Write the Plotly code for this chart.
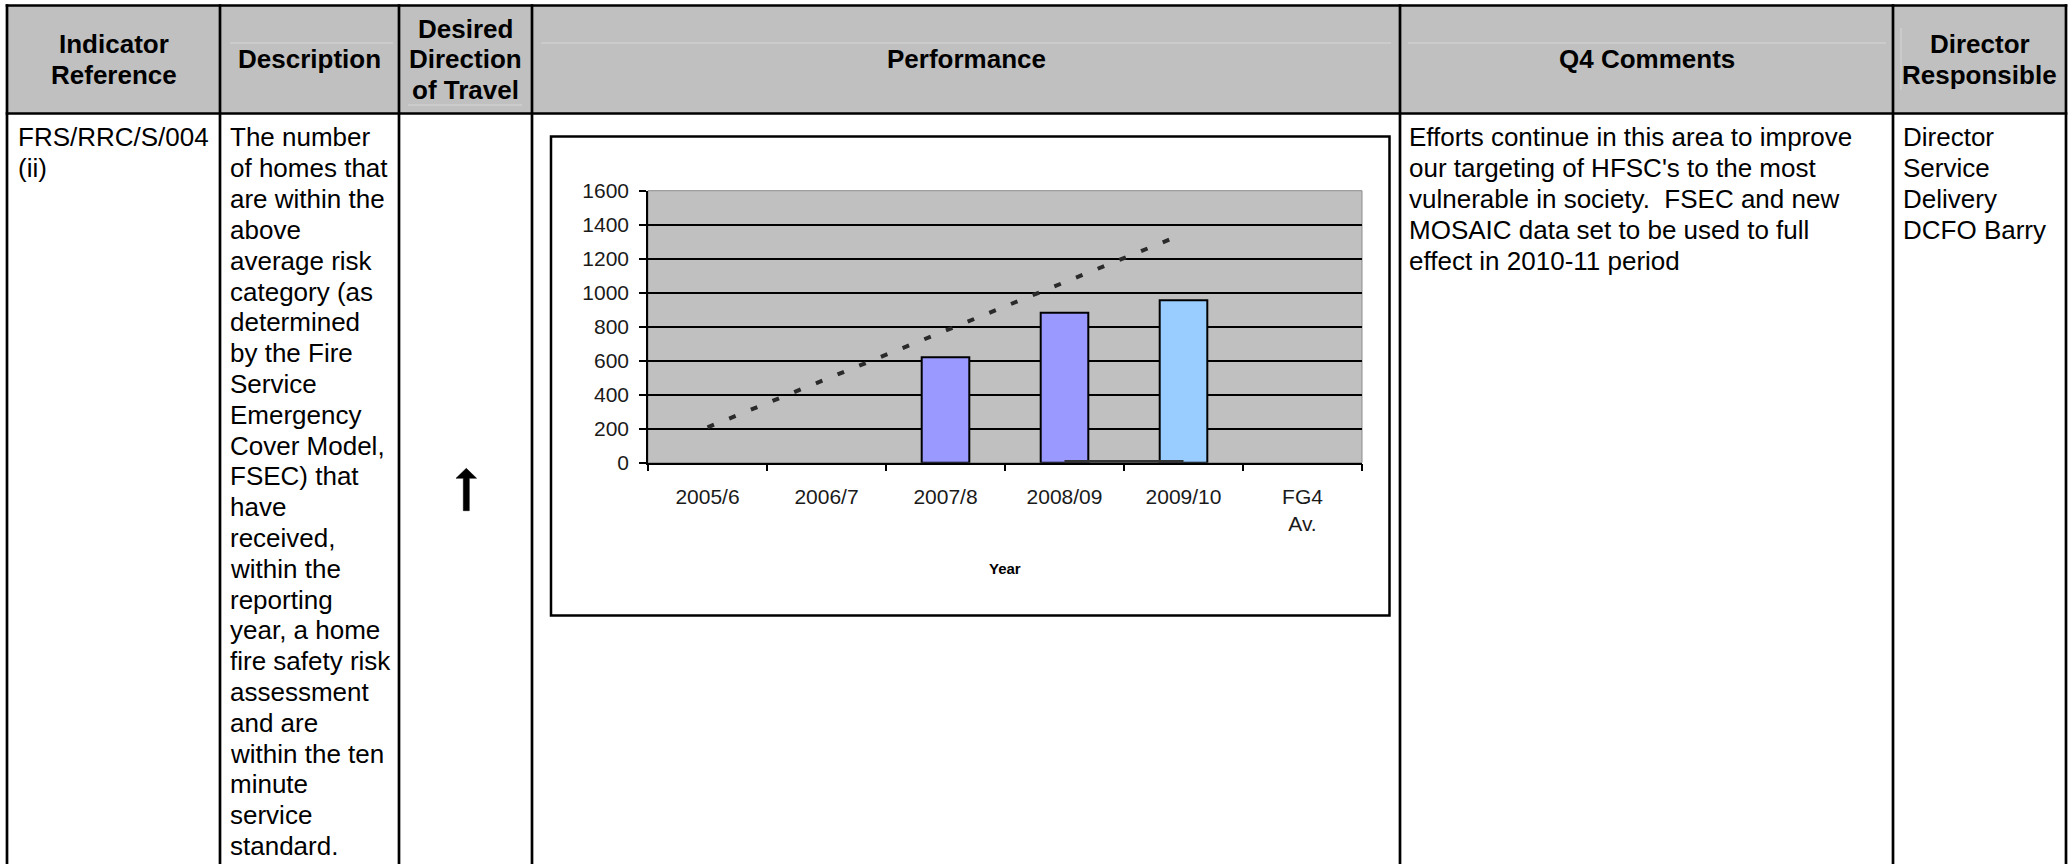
import plotly.graph_objects as go

W, H = 2071, 864
FONT = "Liberation Sans, Arial, sans-serif"

# ---- chart data -------------------------------------------------------
years = ["2005/6", "2006/7", "2007/8", "2008/09", "2009/10", "FG4<br>Av."]
actual_years = ["2007/8", "2008/09"]
actual_values = [620, 882]
current_years = ["2009/10"]
current_values = [955]
trend_years = ["2005/6", "2009/10"]
trend_values = [208, 1346]
base_years = ["2008/09", "2009/10"]
base_values = [7, 7]
y_ticks = [0, 200, 400, 600, 800, 1000, 1200, 1400, 1600]

# ---- table text -------------------------------------------------------
header_indicator = ["Indicator", "Reference"]
header_description = ["Description"]
header_direction = ["Desired", "Direction", "of Travel"]
header_performance = ["Performance"]
header_comments = ["Q4 Comments"]
header_director = ["Director", "Responsible"]

indicator_lines = ["FRS/RRC/S/004", "(ii)"]
description_lines = [
    "The number", "of homes that", "are within the", "above",
    "average risk", "category (as", "determined", "by the Fire",
    "Service", "Emergency", "Cover Model,", "FSEC) that", "have",
    "received,", "within the", "reporting", "year, a home",
    "fire safety risk", "assessment", "and are", "within the ten",
    "minute", "service", "standard.",
]
comment_lines = [
    "Efforts continue in this area to improve",
    "our targeting of HFSC's to the most",
    "vulnerable in society.\u00a0 FSEC and new",
    "MOSAIC data set to be used to full",
    "effect in 2010-11 period",
]
director_lines = ["Director", "Service", "Delivery", "DCFO Barry"]

# ---- geometry helpers (pixel -> paper) --------------------------------
def X(px):
    return px / W


def Y(py):
    return 1 - py / H


cols = [7, 220, 399, 532, 1400, 1893, 2066]
top, head_bottom, bottom = 5.5, 113.5, 880
line_w = 2.7
body_size = 26
head_size = 26
row0, row_step = 137.5, 30.8
head_step = 30.8

shapes = []
# header band
shapes.append(dict(type="rect", xref="paper", yref="paper", layer="below",
                   x0=X(cols[0]), x1=X(cols[-1]), y0=Y(head_bottom), y1=Y(top),
                   fillcolor="#c0c0c0", line=dict(width=0)))
# faint inner cell rules in the header
for (x0, x1, yy) in [(230, 393, 43), (408, 522, 105), (541, 1391, 43), (1408, 1886, 43)]:
    shapes.append(dict(type="line", xref="paper", yref="paper", layer="below",
                       x0=X(x0), x1=X(x1), y0=Y(yy), y1=Y(yy),
                       line=dict(color="#d6d6d6", width=1)))
shapes.append(dict(type="line", xref="paper", yref="paper", layer="below",
                   x0=X(1901), x1=X(1901), y0=Y(28), y1=Y(90),
                   line=dict(color="#d6d6d6", width=1)))

# chart frame and plot area
plot_l, plot_r, plot_t, plot_b = 648, 1362, 190.7, 462.7
shapes.append(dict(type="rect", xref="paper", yref="paper", layer="below",
                   x0=X(551), x1=X(1389.5), y0=Y(615.5), y1=Y(136.5),
                   fillcolor="white", line=dict(color="black", width=2.5)))
shapes.append(dict(type="rect", xref="paper", yref="paper", layer="below",
                   x0=X(plot_l), x1=X(plot_r), y0=Y(plot_b), y1=Y(plot_t),
                   fillcolor="#c0c0c0", line=dict(color="#8c8c8c", width=1)))

# table rules
for cx in cols:
    shapes.append(dict(type="line", xref="paper", yref="paper",
                       x0=X(cx), x1=X(cx), y0=Y(top - 1.3), y1=Y(bottom),
                       line=dict(color="black", width=line_w)))
for yy in (top, head_bottom):
    shapes.append(dict(type="line", xref="paper", yref="paper",
                       x0=X(cols[0] - 1.3), x1=X(cols[-1] + 1.3), y0=Y(yy), y1=Y(yy),
                       line=dict(color="black", width=line_w)))

# upward arrow for the desired direction of travel
ax_c, tip, head_base, stem_bot = 466.3, 468.3, 478.3, 510.7
pts = [(ax_c - 3, stem_bot), (ax_c - 3, head_base), (ax_c - 10.3, head_base),
       (ax_c, tip), (ax_c + 10.3, head_base), (ax_c + 3, head_base), (ax_c + 3, stem_bot)]
path = "M " + " L ".join(f"{X(px):.6f},{Y(py):.6f}" for px, py in pts) + " Z"
shapes.append(dict(type="path", xref="paper", yref="paper", path=path,
                   fillcolor="black", line=dict(color="black", width=0.5)))

# ---- annotations ------------------------------------------------------
annotations = []


def add_text(text, px, py, size, bold=False, anchor="left"):
    annotations.append(dict(
        text=f"<b>{text}</b>" if bold else text,
        x=X(px), y=Y(py), xref="paper", yref="paper",
        xanchor=anchor, yanchor="middle", showarrow=False,
        font=dict(family=FONT, size=size, color="black"),
    ))


def add_header(lines, c0, c1):
    cx = (cols[c0] + cols[c1]) / 2
    mid = (top + head_bottom) / 2
    n = len(lines)
    for i, t in enumerate(lines):
        add_text(t, cx, mid + (i - (n - 1) / 2) * head_step, head_size, bold=True, anchor="center")


add_header(header_indicator, 0, 1)
add_header(header_description, 1, 2)
add_header(header_direction, 2, 3)
add_header(header_performance, 3, 4)
add_header(header_comments, 4, 5)
add_header(header_director, 5, 6)

for lines, x0 in [(indicator_lines, 16), (description_lines, 228),
                  (comment_lines, 1407), (director_lines, 1901)]:
    for i, t in enumerate(lines):
        add_text(t, x0, row0 + i * row_step, body_size)

# axis title of the embedded chart
annotations.append(dict(text="<b>Year</b>", x=X((plot_l + plot_r) / 2), y=Y(568),
                        xref="paper", yref="paper", xanchor="center", yanchor="middle",
                        showarrow=False, font=dict(family=FONT, size=15, color="black")))

# ---- traces -----------------------------------------------------------
fig = go.Figure()
fig.add_trace(go.Bar(x=actual_years, y=actual_values, width=0.4,
                     marker=dict(color="#9999FF", line=dict(color="black", width=2))))
fig.add_trace(go.Bar(x=current_years, y=current_values, width=0.4,
                     marker=dict(color="#99CCFF", line=dict(color="black", width=2))))
fig.add_trace(go.Scatter(x=base_years, y=base_values, mode="lines",
                         line=dict(color="#333333", width=3)))
fig.add_trace(go.Scatter(x=trend_years, y=trend_values, mode="lines",
                         line=dict(color="#2a2a2a", width=4, dash="7px,16.4px")))

tick_font = dict(family=FONT, size=21, color="#1a1a1a")
fig.update_layout(
    width=W, height=H,
    margin=dict(l=0, r=0, t=0, b=0, pad=0, autoexpand=False),
    paper_bgcolor="white",
    plot_bgcolor="rgba(0,0,0,0)",
    showlegend=False,
    barmode="overlay",
    shapes=shapes,
    annotations=annotations,
    xaxis=dict(
        domain=[X(plot_l), X(plot_r)], automargin=False,
        type="category", categoryorder="array", categoryarray=years,
        range=[-0.5, len(years) - 0.5],
        tickson="boundaries", ticks="outside", ticklen=7, tickwidth=1.5, tickcolor="black",
        showline=True, linecolor="black", linewidth=1.5, showgrid=False,
        tickfont=tick_font, ticklabelstandoff=14, fixedrange=True,
    ),
    yaxis=dict(
        domain=[Y(plot_b), Y(plot_t)], automargin=False,
        range=[0, 1600], tickmode="array", tickvals=y_ticks,
        ticks="outside", ticklen=7, tickwidth=1.5, tickcolor="black",
        showline=True, linecolor="black", linewidth=1.5,
        showgrid=True, gridcolor="black", gridwidth=1.5, zeroline=False,
        tickfont=tick_font, ticklabelstandoff=6, fixedrange=True,
    ),
)

fig.write_html("out.html", config={"displayModeBar": False},
               post_script="document.body.style.margin='0';")
